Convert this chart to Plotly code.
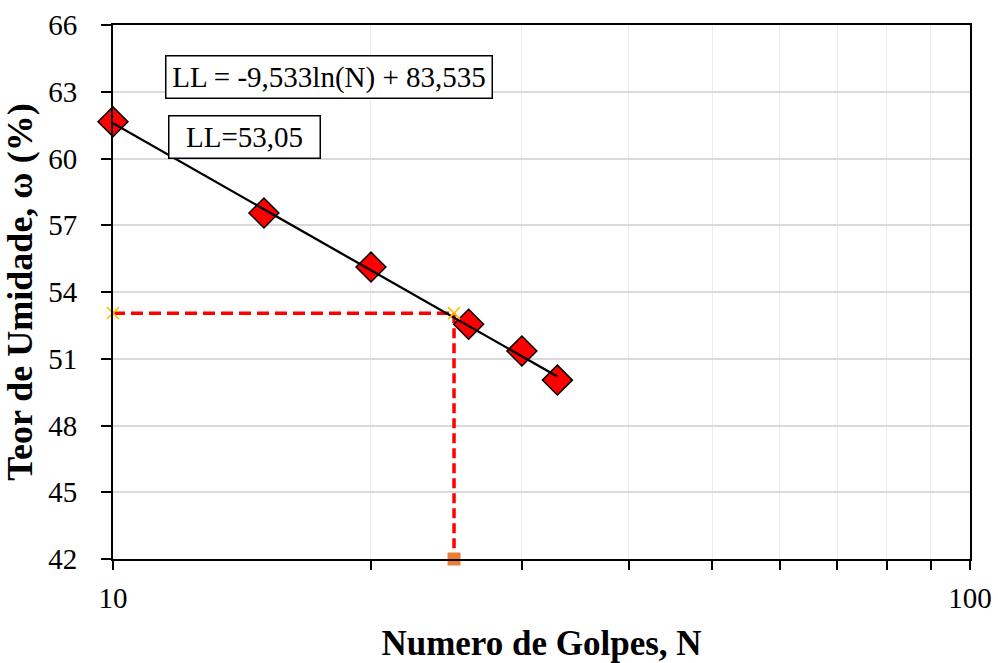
import numpy as np
import plotly.graph_objects as go

# Data
golpes = [10, 15, 20, 26, 30, 33]
umidade = [61.65, 57.55, 55.12, 52.55, 51.35, 50.04]
coef_a = -9.533
coef_b = 83.535
ll_value = 53.05
n_ll = 25
y_min = 42

x_tick_vals = [10, 20, 30, 40, 50, 60, 70, 80, 90, 100]
x_tick_text = ["10", "", "", "", "", "", "", "", "", "100"]
y_tick_vals = [42, 45, 48, 51, 54, 57, 60, 63, 66]

font_family = "Liberation Serif, Times New Roman, serif"

trend_x = np.linspace(min(golpes), max(golpes), 60)
trend_y = coef_a * np.log(trend_x) + coef_b

fig = go.Figure()

# dashed guide lines
fig.add_trace(go.Scatter(x=[golpes[0], n_ll], y=[ll_value, ll_value],
                         mode="lines", line=dict(color="#ff0000", width=3.5, dash="12px,6px"),
                         showlegend=False, hoverinfo="skip", cliponaxis=False))
fig.add_trace(go.Scatter(x=[n_ll, n_ll], y=[ll_value, y_min],
                         mode="lines", line=dict(color="#ff0000", width=3.5, dash="10px,5px"),
                         showlegend=False, hoverinfo="skip", cliponaxis=False))
# data markers
fig.add_trace(go.Scatter(x=golpes, y=umidade, mode="markers",
                         marker=dict(symbol="diamond", size=23, color="#ff0000",
                                     line=dict(color="black", width=1.5)),
                         showlegend=False, cliponaxis=False))
# trend line
fig.add_trace(go.Scatter(x=trend_x, y=trend_y, mode="lines",
                         line=dict(color="black", width=2.3), showlegend=False,
                         hoverinfo="skip", cliponaxis=False))
# guide end markers
fig.add_trace(go.Scatter(x=[golpes[0], n_ll], y=[ll_value, ll_value], mode="markers",
                         marker=dict(symbol="x-thin", size=12,
                                     line=dict(color="#ffc000", width=1.5)),
                         showlegend=False, cliponaxis=False))
fig.add_trace(go.Scatter(x=[n_ll], y=[y_min], mode="markers",
                         marker=dict(symbol="square", size=13, color="#ed7d31"),
                         showlegend=False, cliponaxis=False))

fig.add_annotation(xref="paper", yref="paper", x=0.0607, y=0.902, xanchor="left", yanchor="middle",
                   text="LL = -9,533ln(N) + 83,535", showarrow=False,
                   width=321, height=37, align="center", valign="middle",
                   font=dict(family=font_family, size=29, color="black"),
                   bordercolor="black", borderwidth=1.5, borderpad=2, bgcolor="white")
fig.add_annotation(xref="paper", yref="paper", x=0.0642, y=0.791, xanchor="left", yanchor="middle",
                   text="LL=53,05", showarrow=False,
                   width=146, height=37, align="center", valign="middle",
                   font=dict(family=font_family, size=29, color="black"),
                   bordercolor="black", borderwidth=1.5, borderpad=2, bgcolor="white")

fig.update_layout(
    width=998, height=663,
    margin=dict(l=113, r=28, t=25, b=104),
    paper_bgcolor="white", plot_bgcolor="white",
    font=dict(family=font_family, size=29, color="black"),
    xaxis=dict(type="log", range=[1, 2], tickvals=x_tick_vals, ticktext=x_tick_text,
               ticks="outside", ticklen=9, tickwidth=1.5, tickcolor="black",
               showline=True, linecolor="black", linewidth=2, mirror=True,
               showgrid=True, gridcolor="#ececec", gridwidth=1,
               zeroline=False, ticklabelstandoff=3, automargin=False,
               tickfont=dict(size=29),
               title=dict(text="<b>Numero de Golpes, N</b>", font=dict(size=35), standoff=20)),
    yaxis=dict(range=[42, 66], tickvals=y_tick_vals, ticks="outside", ticklen=10,
               tickwidth=1.5, tickcolor="black",
               showline=True, linecolor="black", linewidth=2, mirror=True,
               showgrid=True, gridcolor="#d9d9d9", gridwidth=1.5, zeroline=False,
               ticklabelstandoff=18, automargin=False,
               tickfont=dict(size=29),
               title=dict(text="<b>Teor de Umidade, ω (%)</b>", font=dict(size=36), standoff=6)),
)

fig.write_html("out.html")
